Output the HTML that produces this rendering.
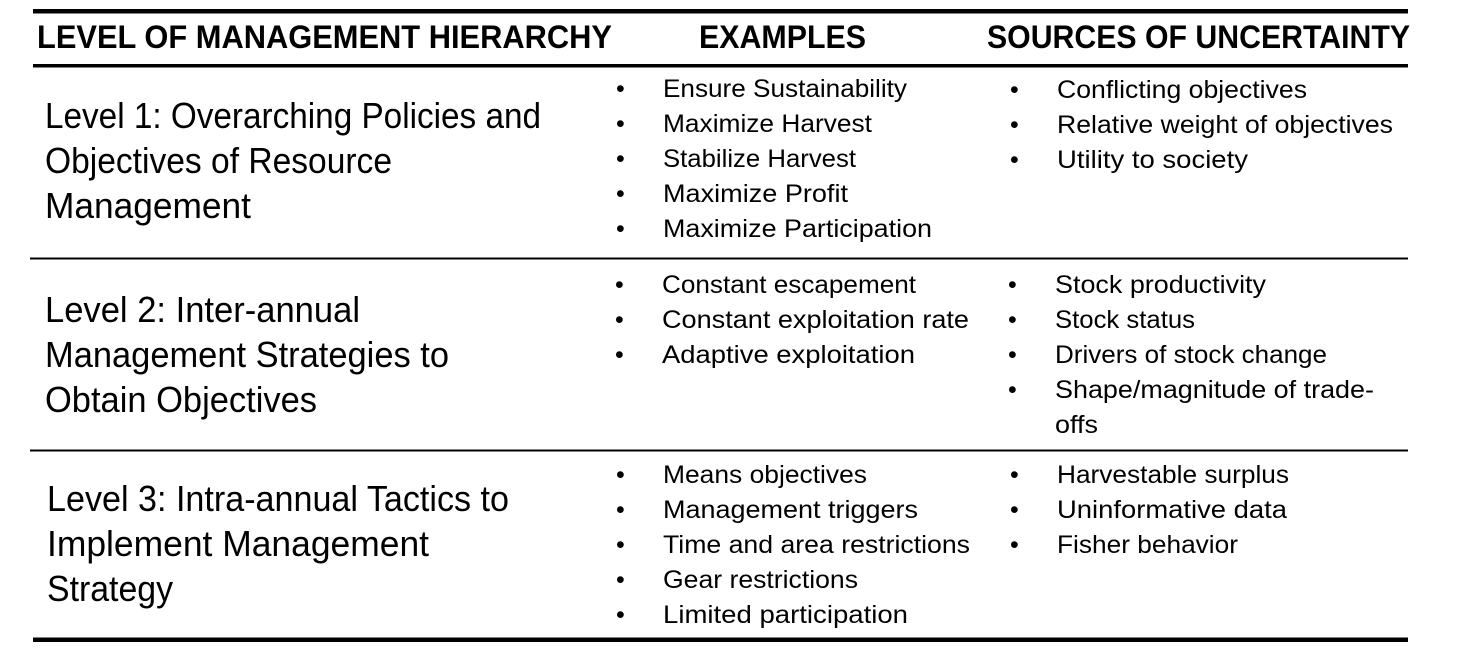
<!DOCTYPE html>
<html><head><meta charset="utf-8"><style>
html,body{margin:0;padding:0;background:#fff;}
svg{display:block;}
text{font-family:"Liberation Sans",sans-serif;fill:#000;}
.h{font-weight:bold;font-size:32px;}
.l{font-size:36px;}
.i{font-size:25px;}
</style></head><body>
<svg width="1470" height="649" viewBox="0 0 1470 649" xmlns="http://www.w3.org/2000/svg">
<rect x="33" y="9" width="1375" height="4.5" fill="#000"/>
<rect x="33" y="64" width="1375" height="3.5" fill="#000"/>
<rect x="30" y="257.5" width="1378" height="2" fill="#000"/>
<rect x="30" y="449.5" width="1378" height="2" fill="#000"/>
<rect x="33" y="637.5" width="1375" height="4.5" fill="#000"/>

<text class="h" x="37" y="48" textLength="575" lengthAdjust="spacingAndGlyphs">LEVEL OF MANAGEMENT HIERARCHY</text>
<text class="h" x="699" y="48" textLength="167" lengthAdjust="spacingAndGlyphs">EXAMPLES</text>
<text class="h" x="987" y="48" textLength="423" lengthAdjust="spacingAndGlyphs">SOURCES OF UNCERTAINTY</text>

<text class="l" x="45" y="128" textLength="496" lengthAdjust="spacingAndGlyphs">Level 1: Overarching Policies and</text>
<text class="l" x="45" y="173" textLength="347" lengthAdjust="spacingAndGlyphs">Objectives of Resource</text>
<text class="l" x="45" y="218" textLength="206" lengthAdjust="spacingAndGlyphs">Management</text>

<text class="l" x="45" y="322" textLength="315" lengthAdjust="spacingAndGlyphs">Level 2: Inter-annual</text>
<text class="l" x="45" y="367" textLength="404" lengthAdjust="spacingAndGlyphs">Management Strategies to</text>
<text class="l" x="45" y="412" textLength="272" lengthAdjust="spacingAndGlyphs">Obtain Objectives</text>

<text class="l" x="47" y="511" textLength="462" lengthAdjust="spacingAndGlyphs">Level 3: Intra-annual Tactics to</text>
<text class="l" x="47" y="556" textLength="382" lengthAdjust="spacingAndGlyphs">Implement Management</text>
<text class="l" x="47" y="601" textLength="126" lengthAdjust="spacingAndGlyphs">Strategy</text>

<text class="i" x="616" y="97">•</text><text class="i" x="663" y="97" textLength="244" lengthAdjust="spacingAndGlyphs">Ensure Sustainability</text>
<text class="i" x="616" y="132">•</text><text class="i" x="663" y="132" textLength="209" lengthAdjust="spacingAndGlyphs">Maximize Harvest</text>
<text class="i" x="616" y="167">•</text><text class="i" x="663" y="167" textLength="193" lengthAdjust="spacingAndGlyphs">Stabilize Harvest</text>
<text class="i" x="616" y="202">•</text><text class="i" x="663" y="202" textLength="185" lengthAdjust="spacingAndGlyphs">Maximize Profit</text>
<text class="i" x="616" y="237">•</text><text class="i" x="663" y="237" textLength="269" lengthAdjust="spacingAndGlyphs">Maximize Participation</text>

<text class="i" x="615" y="293">•</text><text class="i" x="662" y="293" textLength="254" lengthAdjust="spacingAndGlyphs">Constant escapement</text>
<text class="i" x="615" y="328">•</text><text class="i" x="662" y="328" textLength="307" lengthAdjust="spacingAndGlyphs">Constant exploitation rate</text>
<text class="i" x="615" y="363">•</text><text class="i" x="662" y="363" textLength="253" lengthAdjust="spacingAndGlyphs">Adaptive exploitation</text>

<text class="i" x="616" y="483">•</text><text class="i" x="663" y="483" textLength="204" lengthAdjust="spacingAndGlyphs">Means objectives</text>
<text class="i" x="616" y="518">•</text><text class="i" x="663" y="518" textLength="255" lengthAdjust="spacingAndGlyphs">Management triggers</text>
<text class="i" x="616" y="553">•</text><text class="i" x="663" y="553" textLength="307" lengthAdjust="spacingAndGlyphs">Time and area restrictions</text>
<text class="i" x="616" y="588">•</text><text class="i" x="663" y="588" textLength="195" lengthAdjust="spacingAndGlyphs">Gear restrictions</text>
<text class="i" x="616" y="623">•</text><text class="i" x="663" y="623" textLength="245" lengthAdjust="spacingAndGlyphs">Limited participation</text>

<text class="i" x="1010" y="98">•</text><text class="i" x="1057" y="98" textLength="250" lengthAdjust="spacingAndGlyphs">Conflicting objectives</text>
<text class="i" x="1010" y="133">•</text><text class="i" x="1057" y="133" textLength="336" lengthAdjust="spacingAndGlyphs">Relative weight of objectives</text>
<text class="i" x="1010" y="168">•</text><text class="i" x="1057" y="168" textLength="191" lengthAdjust="spacingAndGlyphs">Utility to society</text>

<text class="i" x="1008" y="293">•</text><text class="i" x="1055" y="293" textLength="211" lengthAdjust="spacingAndGlyphs">Stock productivity</text>
<text class="i" x="1008" y="328">•</text><text class="i" x="1055" y="328" textLength="140" lengthAdjust="spacingAndGlyphs">Stock status</text>
<text class="i" x="1008" y="363">•</text><text class="i" x="1055" y="363" textLength="272" lengthAdjust="spacingAndGlyphs">Drivers of stock change</text>
<text class="i" x="1008" y="398">•</text><text class="i" x="1055" y="398" textLength="319" lengthAdjust="spacingAndGlyphs">Shape/magnitude  of trade-</text>
<text class="i" x="1055" y="433" textLength="43" lengthAdjust="spacingAndGlyphs">offs</text>

<text class="i" x="1010" y="483">•</text><text class="i" x="1057" y="483" textLength="232" lengthAdjust="spacingAndGlyphs">Harvestable surplus</text>
<text class="i" x="1010" y="518">•</text><text class="i" x="1057" y="518" textLength="230" lengthAdjust="spacingAndGlyphs">Uninformative data</text>
<text class="i" x="1010" y="553">•</text><text class="i" x="1057" y="553" textLength="181" lengthAdjust="spacingAndGlyphs">Fisher behavior</text>
</svg>
</body></html>
